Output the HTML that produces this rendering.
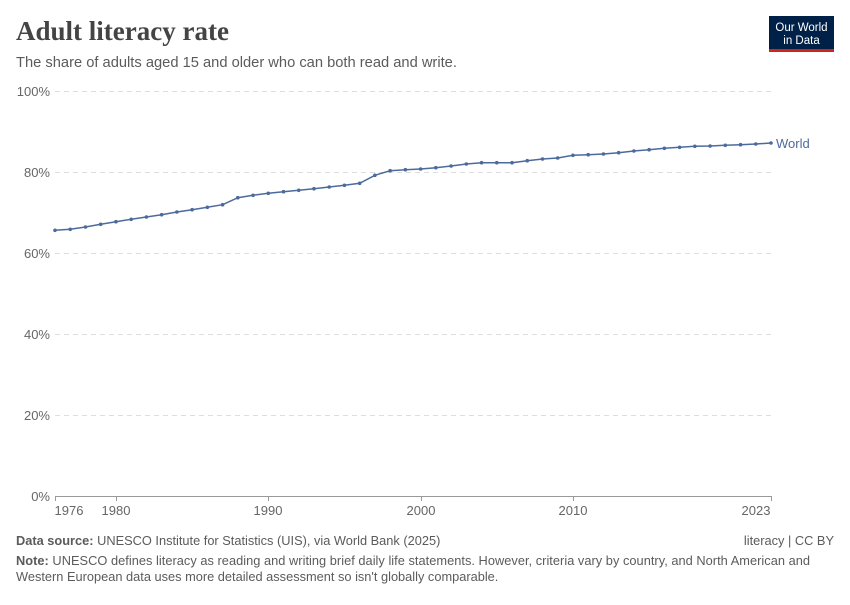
<!DOCTYPE html><html><head><meta charset="utf-8"><style>
body{margin:0;width:850px;height:600px;background:#fff;font-family:"Liberation Sans",sans-serif;overflow:hidden}
</style></head><body>
<svg width="850" height="600" xmlns="http://www.w3.org/2000/svg" font-family="Liberation Sans, sans-serif">
<text x="16" y="40" font-family="Liberation Serif, serif" font-size="27" font-weight="bold" fill="#444">Adult literacy rate</text>
<text x="16" y="67" font-size="14.7" fill="#5b5b5b">The share of adults aged 15 and older who can both read and write.</text>
<rect x="769" y="16" width="65" height="36" fill="#002147"/>
<rect x="769" y="49" width="65" height="3" fill="#ce261e"/>
<text x="801.5" y="31" font-size="11.5" fill="#fff" text-anchor="middle">Our World</text>
<text x="801.5" y="44" font-size="11.5" fill="#fff" text-anchor="middle">in Data</text>
<g stroke="#ddd" stroke-dasharray="5,4" stroke-width="1">
<line x1="55" x2="771" y1="91.5" y2="91.5"/><line x1="55" x2="771" y1="172.5" y2="172.5"/><line x1="55" x2="771" y1="253.5" y2="253.5"/><line x1="55" x2="771" y1="334.5" y2="334.5"/><line x1="55" x2="771" y1="415.5" y2="415.5"/>
</g>
<line x1="55" x2="771" y1="496.5" y2="496.5" stroke="#999"/>
<g font-size="13" fill="#666" text-anchor="end">
<text x="50" y="96">100%</text><text x="50" y="177">80%</text><text x="50" y="258">60%</text><text x="50" y="339">40%</text><text x="50" y="420">20%</text><text x="50" y="501">0%</text>
</g>
<g stroke="#999"><line x1="55.5" x2="55.5" y1="496" y2="501"/><line x1="116.5" x2="116.5" y1="496" y2="501"/><line x1="268.5" x2="268.5" y1="496" y2="501"/><line x1="421.5" x2="421.5" y1="496" y2="501"/><line x1="573.5" x2="573.5" y1="496" y2="501"/><line x1="771.5" x2="771.5" y1="496" y2="501"/></g>
<g font-size="13" fill="#666" text-anchor="middle">
<text x="69" y="515">1976</text><text x="116" y="515">1980</text><text x="268" y="515">1990</text><text x="421" y="515">2000</text><text x="573" y="515">2010</text><text x="756" y="515">2023</text>
</g>
<g id="s"></g>
<text x="776" y="148" font-size="13" fill="#4c6a9c">World</text>
<text x="16" y="545" font-size="12.8" fill="#5b5b5b"><tspan font-weight="bold">Data source:</tspan> UNESCO Institute for Statistics (UIS), via World Bank (2025)</text>
<text x="834" y="545" font-size="12.8" fill="#5b5b5b" text-anchor="end">literacy | CC BY</text>
<text x="16" y="565" font-size="12.8" fill="#5b5b5b" textLength="794"><tspan font-weight="bold">Note:</tspan> UNESCO defines literacy as reading and writing brief daily life statements. However, criteria vary by country, and North American and</text>
<text x="16" y="581" font-size="12.8" fill="#5b5b5b">Western European data uses more detailed assessment so isn't globally comparable.</text>
</svg>
<script>
var ys=[230.3,229.3,227,224.3,221.7,219.3,217,214.7,212,209.7,207.3,204.7,197.7,195.3,193.3,191.7,190.3,188.7,187,185.3,183.3,175.3,170.7,169.7,169,167.7,166,164,162.7,162.7,162.7,160.7,159,158,155.3,154.7,154,152.7,151,149.7,148.3,147.3,146.3,146,145.3,144.7,144,143];
var g=document.getElementById('s'),ns='http://www.w3.org/2000/svg',pts=[];
ys.forEach(function(y,i){var x=55+i*716/47;pts.push(x.toFixed(1)+','+y);var c=document.createElementNS(ns,'circle');c.setAttribute('cx',x);c.setAttribute('cy',y);c.setAttribute('r',1.8);c.setAttribute('fill','#4c6a9c');g.appendChild(c);});
var p=document.createElementNS(ns,'polyline');p.setAttribute('points',pts.join(' '));p.setAttribute('fill','none');p.setAttribute('stroke','#4c6a9c');p.setAttribute('stroke-width','1.5');g.insertBefore(p,g.firstChild);
</script>
</body></html>
